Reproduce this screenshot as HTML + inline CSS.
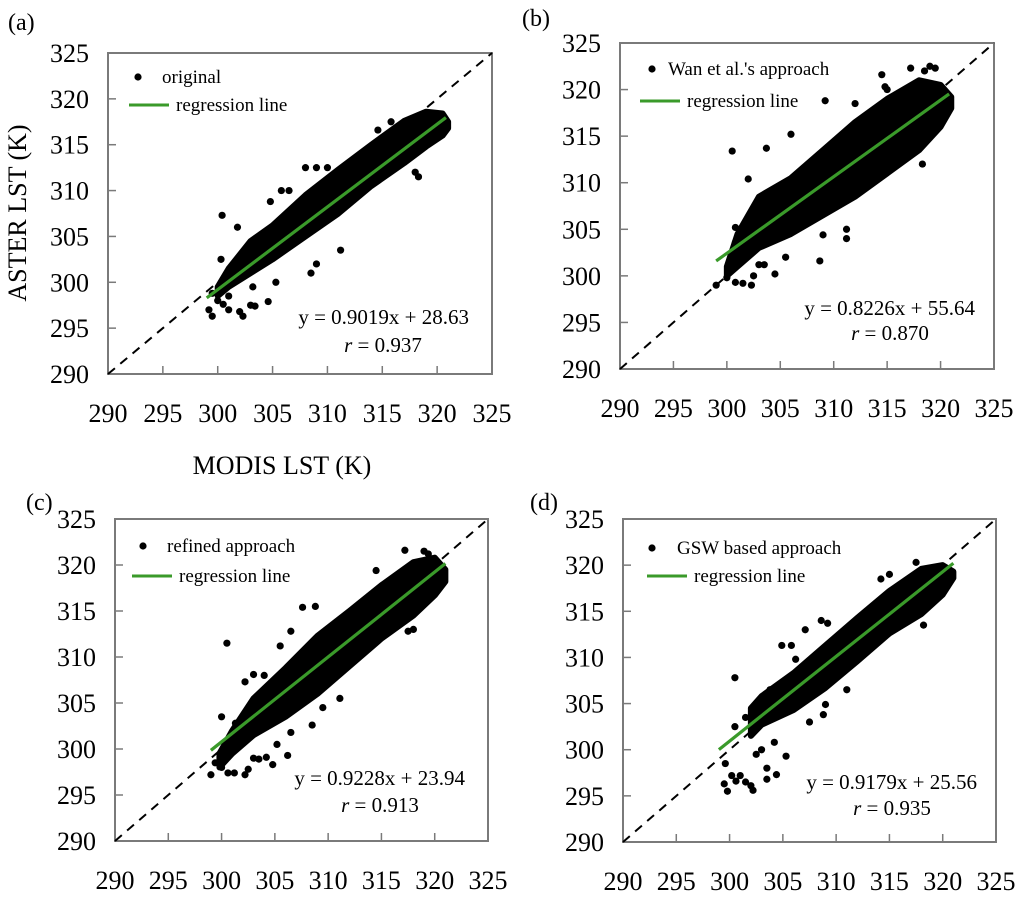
<!DOCTYPE html>
<html><head><meta charset="utf-8"><style>
html,body{margin:0;padding:0;background:#fff;}
svg{display:block;font-family:"Liberation Serif",serif;}
</style></head><body>
<svg id="fig" width="1024" height="897" viewBox="0 0 1024 897">
<text x="8" y="30" font-size="24">(a)</text>
<text x="522" y="26" font-size="24">(b)</text>
<text x="26" y="510" font-size="24">(c)</text>
<text x="530" y="510" font-size="24">(d)</text>
<text transform="translate(26,213) rotate(-90)" text-anchor="middle" font-size="26">ASTER LST (K)</text>
<text x="282" y="474" text-anchor="middle" font-size="26">MODIS LST (K)</text>
</svg>
<script>
const ticks = [290,295,300,305,310,315,320,325];
const legendNames = ["original","Wan et al.'s approach","refined approach","GSW based approach"];
const slopes = [0.9019,0.8226,0.9228,0.9179];
const intercepts = [28.63,55.64,23.94,25.56];
const rValues = ["0.937","0.870","0.913","0.935"];
const eqLabels = ["y = 0.9019x + 28.63","y = 0.8226x + 55.64","y = 0.9228x + 23.94","y = 0.9179x + 25.56"];
const fitStart = [299,299,299,299];
const fitEnd = [320.8,320.8,321,321];
const bandXA = [300,301,303,305,308,311,314,317,319,320.5,321];
const bandLoA = [298.5,299.5,301,302.5,305,307.5,310.5,313,314.8,316,316.8];
const bandHiA = [299.5,301.5,304.5,306.2,309.5,312.3,315,317.6,318.6,318.4,317.5];
const bandXB = [300,301,303,306,309,312,315,318,320,321];
const bandLoB = [300,301,303,304.5,306.5,308.5,311,313.5,316,318];
const bandHiB = [301,304.5,308.5,310.5,313.5,316.5,319,321,320.5,319.2];
const bandXC = [299.8,301,303,306,309,312,315,318,320,321];
const bandLoC = [298,299.5,301.5,303.5,306,309,312,314.5,316.7,318.2];
const bandHiC = [299.5,302,305.5,308.8,312.3,315,317.8,320.3,320.8,319.5];
const bandXD = [302,303,306,309,312,315,318,320,321];
const bandLoD = [301.5,302.7,304.3,306.7,309.6,312.6,314.7,316.8,318.6];
const bandHiD = [304.5,305.8,308.3,311.3,314.3,317.2,319.6,320,319.3];
const outXA = [300.4,301.8,300.3,299.2,299.5,300.5,301,302,302.3,303,303.4,304.6,305.3,303.2,309,310,308,306.5,305.8,304.8,318.3,318,311.2,308.5,315.8,314.6,309,299.5,300,301];
const outYA = [307.3,306,302.5,297,296.3,297.6,297,296.8,296.3,297.5,297.4,297.9,300,299.5,312.5,312.5,312.5,310,310,308.8,311.5,312,303.5,301,317.5,316.6,302,298.8,298,298.5];
const outXB = [300.5,303.7,302,299,300,300.8,301.5,302.3,302.5,304.5,303,303.5,308.7,304,300.8,300.8,306,314.5,317.2,318.5,319,319.5,312,309.2,318.3,311.2,311.2,309,305.5,315,314.8];
const outYB = [313.4,313.7,310.4,299,299.8,299.3,299.2,299,300,300.2,301.2,301.2,301.6,306.7,305.2,303.6,315.2,321.6,322.3,322,322.5,322.3,318.5,318.8,312,304,305,304.4,302,320,320.3];
const outXC = [300.5,300,301.3,302.2,299,299.4,300,300.6,301.2,302.2,302.5,303,303.5,304.2,304.8,306.2,305.2,306.5,308.5,307.6,308.8,306.5,305.5,303,304,314.5,317.2,319,319.4,317.5,318,311.1,309.5];
const outYC = [311.5,303.5,302.8,307.3,297.2,298.5,298,297.4,297.4,297.2,297.8,299,298.9,299.1,298.3,299.3,300.5,301.8,302.6,315.4,315.5,312.8,311.2,308.1,308,319.4,321.6,321.5,321.2,312.8,313,305.5,304.5];
const outXD = [300.5,299.5,299.8,299.6,300.2,300.6,301,301.5,302,302.2,302.5,303,303.5,304.4,304.2,305.3,303.5,300.5,301.5,303.8,304.9,305.8,307.1,308.6,309.2,306.2,309,307.5,308.8,318.2,314.2,317.5,315,311];
const outYD = [307.8,296.3,295.5,298.5,297.2,296.6,297.2,296.5,296.1,295.6,299.5,300,296.8,297.3,300.8,299.3,298,302.5,303.5,306.5,311.3,311.3,313,314,313.7,309.8,304.9,303,303.8,313.5,318.5,320.3,319,306.5];

const NS = "http://www.w3.org/2000/svg";
const svg = document.getElementById('fig');
const boxes = [[108,53,492,374],[620,43,994,369],[115,519,488,841],[623,519,996,842]];
const legendPos = [[138,77,129,105],[652,69,640,101],[143,546,132,576],[652,548,647,576]];
const eqPos = [[469,324,383,352],[975,315,890,340],[465,785,380,812],[977,789,892,815]];
const bandsX = [bandXA,bandXB,bandXC,bandXD], bandsLo=[bandLoA,bandLoB,bandLoC,bandLoD], bandsHi=[bandHiA,bandHiB,bandHiC,bandHiD];
const outsX = [outXA,outXB,outXC,outXD], outsY=[outYA,outYB,outYC,outYD];
function mk(tag, attrs, parent){const e=document.createElementNS(NS,tag);for(const k in attrs)e.setAttribute(k,attrs[k]);(parent||svg).appendChild(e);return e;}
const ids=['a','b','c','d'];
boxes.forEach((b,i)=>{
  const [x0,y0,x1,y1]=b;
  const sx=v=>x0+(v-290)/35*(x1-x0);
  const sy=v=>y1-(v-290)/35*(y1-y0);
  const g=mk('g',{});
  
  
  const fr=mk('rect',{x:x0,y:y0,width:x1-x0,height:y1-y0,fill:'#fff',stroke:'#7a7a7a','stroke-width':2},g);
  
  
  ticks.forEach(t=>{
    const ty=mk('line',{x1:x0,x2:x0+8,y1:sy(t),y2:sy(t),stroke:'#7a7a7a','stroke-width':1.5},g);
    
    
    const tx=mk('line',{x1:sx(t),x2:sx(t),y1:y1,y2:y1-8,stroke:'#7a7a7a','stroke-width':1.5},g);
    
    
    const ly=mk('text',{x:x0-19,y:sy(t)+9,'text-anchor':'end','font-size':26},g);
    ly.textContent=t;
    
    
    const lx=mk('text',{x:sx(t),y:y1+48,'text-anchor':'middle','font-size':26},g);
    lx.textContent=t;
    
    
  });
  const d1=mk('line',{x1:sx(290),y1:sy(290),x2:sx(325),y2:sy(325),stroke:'#000','stroke-width':2,'stroke-dasharray':'9,7'},g);
  
  
  const bx=bandsX[i],lo=bandsLo[i],hi=bandsHi[i];
  let pts=bx.map((v,k)=>sx(v)+','+sy(hi[k]));
  pts=pts.concat(bx.map((v,k)=>sx(v)+','+sy(lo[k])).reverse());
  const band=mk('polygon',{points:pts.join(' '),fill:'#000',stroke:'#000','stroke-width':6,'stroke-linejoin':'round'},g);
  
  
  outsX[i].forEach((v,k)=>{
    const c=mk('circle',{cx:sx(v),cy:sy(outsY[i][k]),r:3.6,fill:'#000'},g);
    
    
  });
  const f=v=>slopes[i]*v+intercepts[i];
  const rl=mk('line',{x1:sx(fitStart[i]),y1:sy(f(fitStart[i])),x2:sx(fitEnd[i]),y2:sy(f(fitEnd[i])),stroke:'#3a9a2a','stroke-width':3.2},g);
  
  
  const [dx,dy,lx0,ly0]=legendPos[i];
  const ld=mk('circle',{cx:dx,cy:dy,r:3.6,fill:'#000'},g);
  
  
  const lt=mk('text',{x:dx+(i==3?25:i==1?16:24),y:dy+6,'font-size':19},g);
  lt.textContent=legendNames[i];
  
  
  const ll=mk('line',{x1:lx0,x2:lx0+40,y1:ly0,y2:ly0,stroke:'#3a9a2a','stroke-width':3},g);
  
  
  const lt2=mk('text',{x:lx0+47,y:ly0+6,'font-size':19},g);
  lt2.textContent='regression line';
  
  
  const [ex,ey,rx,ry]=eqPos[i];
  const eq=mk('text',{x:ex,y:ey,'text-anchor':'end','font-size':21},g);
  eq.textContent=eqLabels[i];
  
  
  const rt=mk('text',{x:rx,y:ry,'text-anchor':'middle','font-size':21},g);
  rt.innerHTML='<tspan font-style="italic">r</tspan> = '+rValues[i];
  
  
});
</script>
</body></html>
